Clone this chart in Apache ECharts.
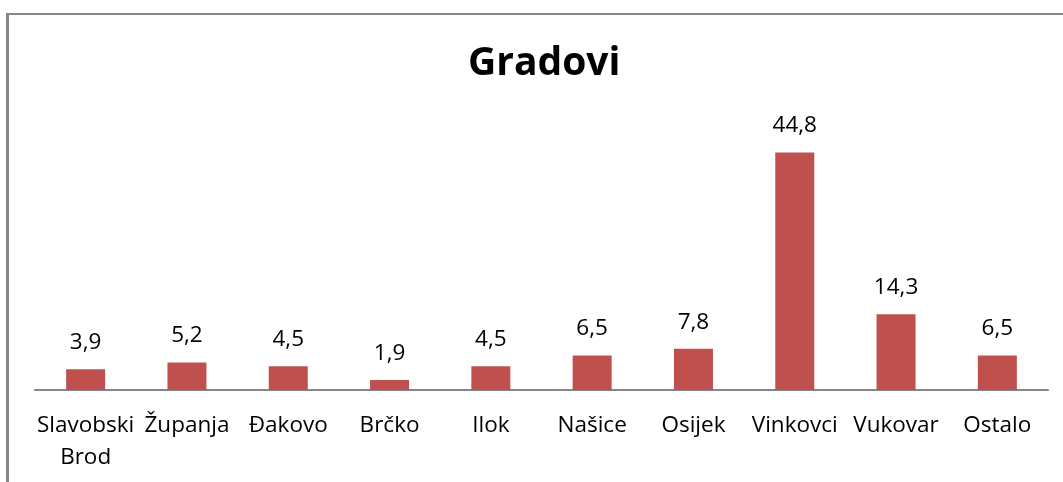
<!DOCTYPE html>
<html>
<head>
<meta charset="utf-8">
<script src="https://cdn.jsdelivr.net/npm/echarts@6/dist/echarts.min.js"></script>
<style>
  html, body { margin: 0; padding: 0; background: #fff; }
  #chart { width: 1063px; height: 482px; }
</style>
</head>
<body>
<div id="chart"></div>
<script>
var cities = ['Slavobski\nBrod', 'Županja', 'Đakovo', 'Brčko', 'Ilok', 'Našice', 'Osijek', 'Vinkovci', 'Vukovar', 'Ostalo'];
var shares = [3.9, 5.2, 4.5, 1.9, 4.5, 6.5, 7.8, 44.8, 14.3, 6.5];

var chart = echarts.init(document.getElementById('chart'));
var option = {
  backgroundColor: '#fff',
  animation: false,
  title: {
    text: 'Gradovi',
    left: 463,
    top: 39,
    textStyle: {
      fontFamily: 'Open Sans',
      fontWeight: 'bold',
      fontSize: 39,
      color: '#000'
    }
  },
  // chart frame (left + top edges visible)
  graphic: [
    { type: 'rect', shape: { x: 6, y: 13, width: 3, height: 470 }, style: { fill: '#868686' } },
    { type: 'rect', shape: { x: 6, y: 13, width: 1060, height: 2 }, style: { fill: '#868686' } }
  ],
  grid: { left: 35, right: 15, top: 125, bottom: 92 },
  xAxis: {
    type: 'category',
    data: cities,
    axisLine: { lineStyle: { color: '#868686', width: 2 } },
    axisTick: { show: false },
    axisLabel: {
      interval: 0,
      margin: 20,
      fontFamily: 'Open Sans',
      fontSize: 22.5,
      lineHeight: 32,
      color: '#000'
    }
  },
  yAxis: {
    type: 'value',
    min: 0,
    max: 50,
    show: false,
    splitLine: { show: false }
  },
  series: [{
    type: 'bar',
    data: shares,
    barWidth: 39,
    itemStyle: { color: '#C0504D' },
    label: {
      show: true,
      position: 'top',
      distance: 15,
      fontFamily: 'Open Sans',
      fontSize: 22.5,
      color: '#000',
      formatter: function (p) { return String(p.value).replace('.', ','); }
    }
  }]
};
chart.setOption(option);
</script>
</body>
</html>
